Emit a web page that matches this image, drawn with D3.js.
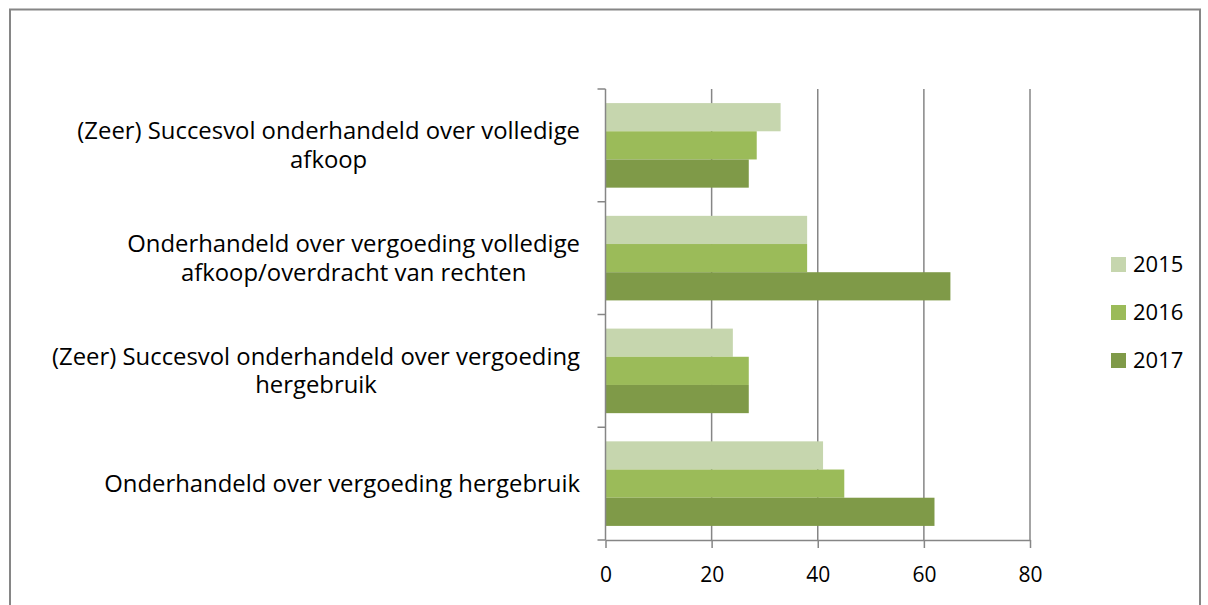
<!DOCTYPE html>
<html>
<head>
<meta charset="utf-8">
<script src="https://cdn.jsdelivr.net/npm/d3@7"></script>
<style>
  html, body { margin: 0; padding: 0; background: #fff; }
  svg { display: block; }
</style>
</head>
<body>
<svg width="1208" height="605"></svg>
<script>
const categories = [
  "(Zeer) Succesvol onderhandeld over volledige\nafkoop",
  "Onderhandeld over vergoeding volledige\nafkoop/overdracht van rechten",
  "(Zeer) Succesvol onderhandeld over vergoeding\nhergebruik",
  "Onderhandeld over vergoeding hergebruik"
];
const years = ["2015", "2016", "2017"];
const values2015 = [33, 38, 24, 41];
const values2016 = [28.5, 38, 27, 45];
const values2017 = [27, 65, 27, 62];
const xTicks = [0, 20, 40, 60, 80];
const colors = ["#c6d6ae", "#9bbb59", "#7f9a48"];

const series = [values2015, values2016, values2017];
const font = "'Open Sans', sans-serif";

const svg = d3.select("svg");

// chart border
svg.append("rect")
  .attr("x", 10).attr("y", 9.5)
  .attr("width", 1190).attr("height", 620)
  .attr("fill", "none")
  .attr("stroke", "#868686")
  .attr("stroke-width", 2);

const margin = {top: 89, left: 605.5};
const plotBottom = 540;

const x = d3.scaleLinear().domain([0, 80]).range([margin.left, 1030]);
const y = d3.scaleBand().domain(categories).range([margin.top, plotBottom]);
const inner = d3.scaleBand().domain(years).range([0, y.bandwidth()]).paddingOuter(0.5);

// gridlines
svg.append("g")
  .selectAll("line")
  .data(xTicks.slice(1))
  .join("line")
  .attr("x1", d => x(d)).attr("x2", d => x(d))
  .attr("y1", margin.top).attr("y2", plotBottom)
  .attr("stroke", "#868686")
  .attr("stroke-width", 1.5);

// bars
const groups = svg.append("g")
  .selectAll("g")
  .data(categories)
  .join("g")
  .attr("transform", d => `translate(0,${y(d)})`);

groups.selectAll("rect")
  .data((d, i) => years.map((yr, j) => ({year: yr, value: series[j][i]})))
  .join("rect")
  .attr("x", x(0))
  .attr("y", d => inner(d.year))
  .attr("width", d => x(d.value) - x(0))
  .attr("height", inner.bandwidth())
  .attr("fill", (d, j) => colors[j]);

// y axis
const yAxis = svg.append("g")
  .attr("transform", `translate(${x(0)},0)`);
yAxis.append("line")
  .attr("x1", 0).attr("x2", 0)
  .attr("y1", margin.top).attr("y2", plotBottom)
  .attr("stroke", "#868686").attr("stroke-width", 1.5);
yAxis.selectAll("line.tick")
  .data(categories.map(c => y(c)).concat([plotBottom]))
  .join("line")
  .attr("class", "tick")
  .attr("x1", -8).attr("x2", 0)
  .attr("y1", d => d).attr("y2", d => d)
  .attr("stroke", "#868686").attr("stroke-width", 1.5);

// x axis
const xAxis = svg.append("g")
  .attr("transform", `translate(0,${plotBottom})`)
  .call(d3.axisBottom(x).tickValues(xTicks).tickSize(8).tickPadding(19).tickSizeOuter(0));
xAxis.select(".domain").attr("stroke", "#868686").attr("stroke-width", 1.5);
xAxis.selectAll(".tick line").attr("stroke", "#868686").attr("stroke-width", 1.5);
xAxis.selectAll(".tick text")
  .attr("fill", "#000")
  .style("font-family", font)
  .style("font-size", "21px");

// category labels: each block right-aligned at 580, lines centred in the block
const labelRight = 580;
const labels = svg.append("g")
  .selectAll("text")
  .data(categories)
  .join("text")
  .attr("text-anchor", "middle")
  .style("font-family", font)
  .style("font-size", "20px")
  .attr("fill", "#000");

labels.each(function(d) {
  const lines = d.split("\n");
  const cy = y(d) + y.bandwidth() / 2;
  const lh = 28.5;
  d3.select(this).selectAll("tspan")
    .data(lines)
    .join("tspan")
    .attr("y", (l, i) => cy + (i - (lines.length - 1) / 2) * lh)
    .attr("dy", "0.35em")
    .text(l => l);
});

// fit font so the widest line matches the original width
let widest = 0;
labels.selectAll("tspan").each(function() {
  widest = Math.max(widest, this.getComputedTextLength());
});
const fs = 20 * 528 / widest;
labels.style("font-size", fs + "px");
labels.each(function() {
  let w = 0;
  d3.select(this).selectAll("tspan").each(function() {
    w = Math.max(w, this.getComputedTextLength());
  });
  d3.select(this).selectAll("tspan").attr("x", labelRight - w / 2);
});

// legend
const legend = svg.append("g")
  .selectAll("g")
  .data(years)
  .join("g")
  .attr("transform", (d, i) => `translate(1111,${257 + i * 48})`);
legend.append("rect")
  .attr("width", 15).attr("height", 15)
  .attr("fill", (d, i) => colors[i]);
legend.append("text")
  .attr("x", 22).attr("y", 7.5)
  .attr("dy", "0.35em")
  .style("font-family", font)
  .style("font-size", "22px")
  .attr("fill", "#000")
  .text(d => d);
</script>
</body>
</html>
